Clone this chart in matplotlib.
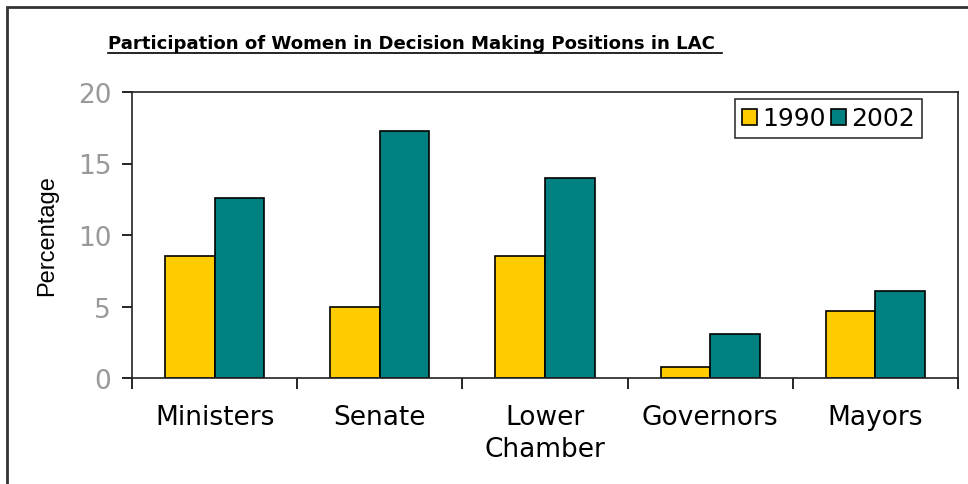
import numpy as np
import matplotlib
matplotlib.use('Agg')
import matplotlib.pyplot as plt
from matplotlib.patches import Rectangle

categories = ['Ministers', 'Senate', 'Lower\nChamber', 'Governors', 'Mayors']
women_1990 = [8.5, 5.0, 8.5, 0.8, 4.7]
women_2002 = [12.6, 17.3, 14.0, 3.1, 6.1]

plt.rcParams['font.family'] = ['DejaVu Sans']

fig = plt.figure(figsize=(9.68, 4.85), dpi=100)
ax = fig.add_axes([132 / 968, 1 - 379 / 485, (958 - 132) / 968, 286 / 485])

x = np.arange(len(categories))
w = 0.3
ax.bar(x - w / 2, women_1990, w, color='#FFCC00', edgecolor='black', linewidth=1.2, label='1990')
ax.bar(x + w / 2, women_2002, w, color='#008080', edgecolor='black', linewidth=1.2, label='2002')

ax.set_xlim(-0.5, len(categories) - 0.5)
ax.set_ylim(0, 20)
ax.set_yticks([0, 5, 10, 15, 20])
ax.tick_params(axis='y', direction='out', length=7, width=1.2, labelsize=19,
               labelcolor='#999999', pad=8)

# category boundaries as ticks, labels in the middle
ax.set_xticks(np.arange(len(categories) + 1) - 0.5)
ax.set_xticklabels([])
ax.set_xticks(x, minor=True)
ax.set_xticklabels(categories, minor=True, fontsize=19, linespacing=1.3)
ax.tick_params(axis='x', which='major', direction='out', length=8, width=1.2)
ax.tick_params(axis='x', which='minor', length=0, pad=19)

for s in ax.spines.values():
    s.set_linewidth(1.2)
    s.set_color('#222222')

ax.set_ylabel('Percentage', fontsize=17, labelpad=14, family=['Liberation Sans', 'DejaVu Sans'])

leg = ax.legend(loc='upper right', bbox_to_anchor=((922 - 132) / 826, 1 - 7 / 286), ncol=2,
                fontsize=18, frameon=True, fancybox=False, edgecolor='black',
                handlelength=0.6, handleheight=0.6, handletextpad=0.2,
                columnspacing=0.2, borderpad=0.3, borderaxespad=0)
leg.get_frame().set_linewidth(1.2)

fig.text(108 / 968, 1 - 44 / 485, 'Participation of Women in Decision Making Positions in LAC',
         fontsize=13.1, fontweight='bold', va='center', ha='left')
fig.add_artist(plt.Line2D([108 / 968, 722 / 968], [1 - 54 / 485, 1 - 54 / 485],
                          color='black', linewidth=1.2))

# outer chart border
fig.add_artist(Rectangle((7 / 968, -0.1), 1.1, 1 - 8 / 485 + 0.1, transform=fig.transFigure,
                         fill=False, edgecolor='#333333', linewidth=2))

fig.savefig('out.png', dpi=100)
